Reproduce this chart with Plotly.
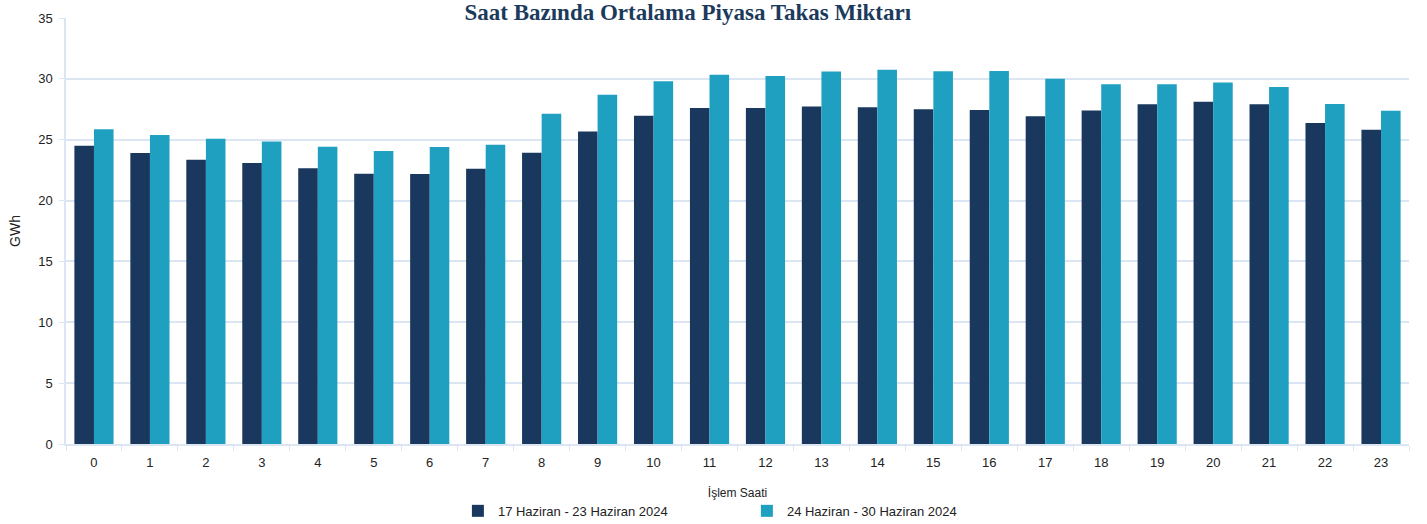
import plotly.graph_objects as go

hours = [str(h) for h in range(24)]
week1_label = "17 Haziran - 23 Haziran 2024"
week2_label = "24 Haziran - 30 Haziran 2024"
week1 = [24.51, 23.91, 23.36, 23.09, 22.65, 22.21, 22.18, 22.62, 23.93, 25.68, 26.97, 27.6,
         27.6, 27.72, 27.67, 27.5, 27.44, 26.92, 27.39, 27.91, 28.11, 27.91, 26.38, 25.82]
week2 = [25.85, 25.39, 25.08, 24.86, 24.43, 24.07, 24.4, 24.59, 27.13, 28.69, 29.81, 30.33,
         30.24, 30.6, 30.74, 30.62, 30.65, 30.0, 29.56, 29.56, 29.7, 29.34, 27.93, 27.38]
y_ticks = [0, 5, 10, 15, 20, 25, 30, 35]

dark = "#1a385e"
light = "#1fa0c1"
grid = "#dce6f2"
font_txt = "Liberation Sans"

fig = go.Figure()
fig.add_trace(go.Bar(x=hours, y=week1, name=week1_label, marker=dict(color=dark, line=dict(width=0))))
fig.add_trace(go.Bar(x=hours, y=week2, name=week2_label, marker=dict(color=light, line=dict(width=0))))

fig.update_layout(
    width=1427, height=524,
    margin=dict(l=66, r=18, t=18, b=80, autoexpand=False),
    paper_bgcolor="white", plot_bgcolor="white",
    barmode="group", bargap=0.3, bargroupgap=0,
    title=dict(text="<b>Saat Bazında Ortalama Piyasa Takas Miktarı</b>",
               font=dict(family="Liberation Serif", size=23, color="#1b3a5c"),
               x=0.463, xanchor="center", xref="paper", y=1 - 12 / 524, yanchor="middle", yref="container"),
    font=dict(family=font_txt, size=13, color="#333333"),
    legend=dict(orientation="h", x=0.507, xanchor="center", xref="paper", y=-0.157, yanchor="middle",
                font=dict(size=13, color="#222222"), entrywidth=244, entrywidthmode="pixels",
                itemsizing="constant", traceorder="normal"),
    showlegend=True,
)
fig.update_xaxes(
    type="category", showgrid=False, showline=True, linecolor=grid, linewidth=1.5,
    ticks="outside", tickson="boundaries", ticklen=5, tickcolor=grid,
    tickfont=dict(size=13, color="#222222"), ticklabelstandoff=6, automargin=False,
    title=dict(text="İşlem Saati", font=dict(size=12, color="#222222"), standoff=19),
)
fig.update_yaxes(
    range=[0, 35], tickvals=y_ticks, showgrid=True, gridcolor=grid, gridwidth=1.5,
    showline=True, linecolor=grid, linewidth=1.5, zeroline=False,
    ticks="outside", ticklen=5, tickcolor=grid, ticklabelstandoff=4, automargin=False,
    tickfont=dict(size=13, color="#222222"),
    title=dict(text="GWh", font=dict(size=14, color="#222222"), standoff=14),
)

fig.write_html("out.html", config={"displayModeBar": False},
               post_script="document.body.style.margin='0';")
